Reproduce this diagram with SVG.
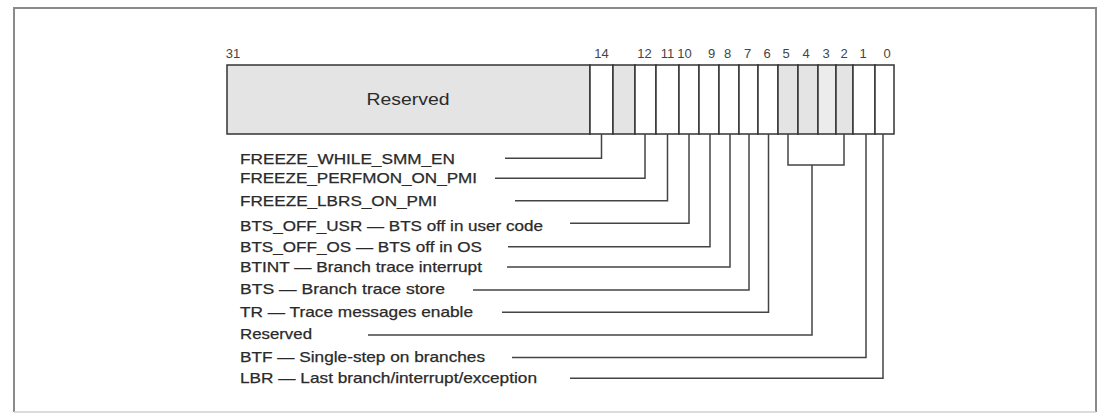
<svg xmlns="http://www.w3.org/2000/svg" width="1102" height="414" viewBox="0 0 1102 414">
<style>
.frame{fill:none;stroke:#8a8a8a;stroke-width:2}
.cell{stroke:#333;stroke-width:1.5}
.w{fill:#fff}
.g{fill:#e4e4e4}
.g2{fill:#ececec}
.bit{font-family:"Liberation Sans",Arial,sans-serif;font-size:13px;fill:#444;text-anchor:middle}
.lbl{font-family:"Liberation Sans",Arial,sans-serif;font-size:15px;fill:#2a2a2a;stroke:#2a2a2a;stroke-width:0.25}
.res{font-family:"Liberation Sans",Arial,sans-serif;font-size:16px;fill:#2a2a2a;text-anchor:middle}
.ln{fill:none;stroke:#444;stroke-width:1.5}
</style>
<rect x="0" y="0" width="1102" height="414" fill="#fff"/>
<polyline class="frame" points="14,412 14,8 1096,8 1096,412"/>
<line x1="14" y1="412" x2="1096" y2="412" stroke="#d0d0d0" stroke-width="1.5"/>
<g id="register">
<rect x="227" y="65" width="363" height="69" class="cell g"/>
<text x="408" y="105" class="res" textLength="83" lengthAdjust="spacingAndGlyphs">Reserved</text>
<rect x="590" y="65" width="23" height="69" class="cell w"/>
<rect x="613" y="65" width="22" height="69" class="cell g"/>
<rect x="635" y="65" width="21" height="69" class="cell w"/>
<rect x="656" y="65" width="23" height="69" class="cell w"/>
<rect x="679" y="65" width="20" height="69" class="cell w"/>
<rect x="699" y="65" width="20" height="69" class="cell w"/>
<rect x="719" y="65" width="20" height="69" class="cell w"/>
<rect x="739" y="65" width="19" height="69" class="cell w"/>
<rect x="758" y="65" width="20" height="69" class="cell w"/>
<rect x="778" y="65" width="20" height="69" class="cell g"/>
<rect x="798" y="65" width="20" height="69" class="cell g"/>
<rect x="818" y="65" width="18" height="69" class="cell g2"/>
<rect x="836" y="65" width="17" height="69" class="cell g"/>
<rect x="853" y="65" width="22" height="69" class="cell w"/>
<rect x="875" y="65" width="19" height="69" class="cell w"/>
</g>
<g id="bitnumbers">
<text x="233" y="57.5" class="bit">31</text>
<text x="601.5" y="57.5" class="bit">14</text>
<text x="644.5" y="57.5" class="bit">12</text>
<text x="667.5" y="57.5" class="bit">11</text>
<text x="684.5" y="57.5" class="bit">10</text>
<text x="711.5" y="57.5" class="bit">9</text>
<text x="727.5" y="57.5" class="bit">8</text>
<text x="747.5" y="57.5" class="bit">7</text>
<text x="767" y="57.5" class="bit">6</text>
<text x="786" y="57.5" class="bit">5</text>
<text x="806" y="57.5" class="bit">4</text>
<text x="826" y="57.5" class="bit">3</text>
<text x="844" y="57.5" class="bit">2</text>
<text x="863" y="57.5" class="bit">1</text>
<text x="887" y="57.5" class="bit">0</text>
</g>
<g id="labels">
<text x="240" y="164.3" class="lbl" textLength="215" lengthAdjust="spacingAndGlyphs">FREEZE_WHILE_SMM_EN</text>
<text x="240" y="183.3" class="lbl" textLength="237" lengthAdjust="spacingAndGlyphs">FREEZE_PERFMON_ON_PMI</text>
<text x="240" y="206" class="lbl" textLength="197" lengthAdjust="spacingAndGlyphs">FREEZE_LBRS_ON_PMI</text>
<text x="240" y="230.7" class="lbl" textLength="303" lengthAdjust="spacingAndGlyphs">BTS_OFF_USR — BTS off in user code</text>
<text x="240" y="251.7" class="lbl" textLength="242" lengthAdjust="spacingAndGlyphs">BTS_OFF_OS — BTS off in OS</text>
<text x="240" y="271.7" class="lbl" textLength="242" lengthAdjust="spacingAndGlyphs">BTINT — Branch trace interrupt</text>
<text x="240" y="294.3" class="lbl" textLength="205" lengthAdjust="spacingAndGlyphs">BTS —  Branch trace store</text>
<text x="240" y="316.7" class="lbl" textLength="233" lengthAdjust="spacingAndGlyphs">TR — Trace messages enable</text>
<text x="240" y="339" class="lbl" textLength="72" lengthAdjust="spacingAndGlyphs">Reserved</text>
<text x="240" y="361.7" class="lbl" textLength="245" lengthAdjust="spacingAndGlyphs">BTF — Single-step on branches</text>
<text x="240" y="383.3" class="lbl" textLength="297" lengthAdjust="spacingAndGlyphs">LBR — Last branch/interrupt/exception</text>
</g>
<g id="connectors">
<polyline class="ln" points="505,158.3 601.5,158.3 601.5,134"/>
<polyline class="ln" points="495,178.3 645,178.3 645,134"/>
<polyline class="ln" points="515,200.7 667.5,200.7 667.5,134"/>
<polyline class="ln" points="570,223.3 689,223.3 689,134"/>
<polyline class="ln" points="508,246.7 710,246.7 710,134"/>
<polyline class="ln" points="507,267 730,267 730,134"/>
<polyline class="ln" points="473,290 749,290 749,134"/>
<polyline class="ln" points="502,312.3 768.5,312.3 768.5,134"/>
<polyline class="ln" points="788,134 788,165 844,165 844,134"/>
<polyline class="ln" points="368,335 812,335 812,165"/>
<polyline class="ln" points="512,357.5 866,357.5 866,134"/>
<polyline class="ln" points="570,378.3 883,378.3 883,134"/>
</g>
</svg>
